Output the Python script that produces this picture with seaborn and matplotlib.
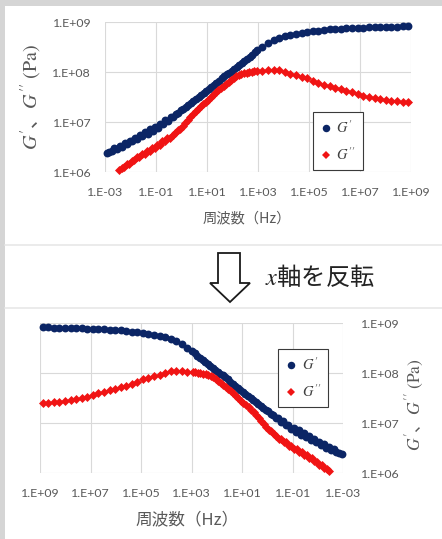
import numpy as np
import pandas as pd
import matplotlib
matplotlib.use("Agg")
import matplotlib.pyplot as plt
from matplotlib.lines import Line2D
from matplotlib.patches import Polygon, Rectangle
from matplotlib.ticker import FixedLocator, FuncFormatter, NullLocator
import seaborn as sns

# Master curve: log10 frequency (Hz) and log10 modulus (Pa)
log_freq_storage = [
    -2.93, -2.83, -2.73, -2.63, -2.53, -2.43, -2.33, -2.23, -2.13, -2.03,
    -1.93, -1.83, -1.73, -1.63, -1.53, -1.43, -1.33, -1.23, -1.13, -1.03,
    -0.93, -0.83, -0.73, -0.63, -0.53, -0.43, -0.33, -0.23, -0.13, -0.03,
    0.07, 0.17, 0.27, 0.37, 0.47, 0.57, 0.67, 0.77, 0.87, 0.97,
    1.07, 1.17, 1.27, 1.37, 1.47, 1.57, 1.67, 1.77, 1.87, 1.97,
    2.07, 2.17, 2.27, 2.37, 2.47, 2.57, 2.67, 2.77, 2.87, 2.97,
    3.17, 3.39, 3.61, 3.83, 4.05, 4.27, 4.49, 4.71, 4.93, 5.15,
    5.37, 5.59, 5.81, 6.03, 6.25, 6.47, 6.69, 6.91, 7.13, 7.35,
    7.57, 7.79, 8.01, 8.23, 8.45, 8.67, 8.89,
]
log_g_storage = [
    6.38, 6.41, 6.42, 6.48, 6.46, 6.53, 6.51, 6.58, 6.57, 6.63,
    6.62, 6.69, 6.66, 6.74, 6.72, 6.80, 6.77, 6.86, 6.83, 6.91,
    6.89, 6.97, 6.96, 7.04, 7.03, 7.11, 7.10, 7.17, 7.19, 7.24,
    7.27, 7.31, 7.35, 7.39, 7.43, 7.47, 7.51, 7.55, 7.59, 7.63,
    7.66, 7.70, 7.75, 7.79, 7.83, 7.88, 7.92, 7.96, 7.99, 8.03,
    8.07, 8.11, 8.15, 8.18, 8.22, 8.26, 8.30, 8.35, 8.40, 8.44,
    8.51, 8.59, 8.64, 8.69, 8.72, 8.75, 8.77, 8.79, 8.81, 8.82,
    8.83, 8.85, 8.86, 8.86, 8.87, 8.88, 8.88, 8.89, 8.89, 8.90,
    8.90, 8.91, 8.91, 8.91, 8.91, 8.92, 8.92,
]
log_freq_loss = [
    -2.45, -2.35, -2.25, -2.15, -2.05, -1.95, -1.85, -1.75, -1.65, -1.55,
    -1.45, -1.35, -1.25, -1.15, -1.05, -0.95, -0.85, -0.75, -0.65, -0.55,
    -0.45, -0.35, -0.25, -0.15, -0.05, 0.05, 0.15, 0.25, 0.35, 0.45,
    0.55, 0.65, 0.75, 0.85, 0.95, 1.05, 1.15, 1.25, 1.35, 1.45,
    1.55, 1.65, 1.75, 1.85, 1.95, 2.05, 2.15, 2.25, 2.35, 2.45,
    2.55, 2.65, 2.75, 2.85, 2.95,
    3.17, 3.39, 3.61, 3.83, 4.05, 4.27, 4.49, 4.71, 4.93, 5.15,
    5.37, 5.59, 5.81, 6.03, 6.25, 6.47, 6.69, 6.91, 7.13, 7.35,
    7.57, 7.79, 8.01, 8.23, 8.45, 8.67, 8.89,
]
log_g_loss = [
    6.05, 6.09, 6.10, 6.16, 6.17, 6.23, 6.24, 6.30, 6.30, 6.36,
    6.36, 6.42, 6.42, 6.48, 6.48, 6.55, 6.55, 6.62, 6.62, 6.69,
    6.69, 6.75, 6.78, 6.84, 6.87, 6.93, 6.98, 7.05, 7.11, 7.17,
    7.22, 7.27, 7.32, 7.37, 7.41, 7.45, 7.50, 7.55, 7.60, 7.64,
    7.69, 7.73, 7.77, 7.81, 7.85, 7.89, 7.92, 7.94, 7.96, 7.98,
    7.99, 8.00, 8.01, 8.02, 8.02,
    8.03, 8.04, 8.05, 8.04, 8.01, 7.97, 7.94, 7.91, 7.88, 7.83,
    7.79, 7.75, 7.72, 7.69, 7.66, 7.63, 7.60, 7.56, 7.53, 7.51,
    7.49, 7.46, 7.45, 7.43, 7.42, 7.41, 7.40,
]

x_ticks = [1e-3, 1e-1, 1e1, 1e3, 1e5, 1e7, 1e9]
y_ticks = [1e6, 1e7, 1e8, 1e9]
series_labels = ["$G'$", "$G''$"]
x_label = "周波数（Hz）"
y_label = r"$G'$、$G''$ $\mathrm{(Pa)}$"
caption = "$x$軸を反転"

NAVY = "#0b2565"
RED = "#f01414"
TICK_GRAY = "#595959"
GRID_GRAY = "#d9d9d9"

sns.set_style("white")
plt.rcParams["font.family"] = ["Lato", "Noto Sans CJK JP", "DejaVu Sans"]
plt.rcParams["mathtext.fontset"] = "stix"

storage_df = pd.DataFrame({
    "freq": 10.0 ** np.array(log_freq_storage),
    "modulus": 10.0 ** np.array(log_g_storage),
})
loss_df = pd.DataFrame({
    "freq": 10.0 ** np.array(log_freq_loss),
    "modulus": 10.0 ** np.array(log_g_loss),
})

W, H = 442, 539
fig = plt.figure(figsize=(W / 100, H / 100), dpi=100)
fig.patch.set_facecolor("white")


def fig_box(x0, y0, x1, y1):
    return [x0 / W, 1 - y1 / H, (x1 - x0) / W, (y1 - y0) / H]


def fx(x):
    return x / W


def fy(y):
    return 1 - y / H


# page frame: grey margins and faint separators between the panels
fig.patches.append(Rectangle((0, 0), fx(5), 1, transform=fig.transFigure,
                             facecolor="#d5d5d5", edgecolor="none", zorder=0))
fig.patches.append(Rectangle((0, fy(6)), 1, 6 / H, transform=fig.transFigure,
                             facecolor="#d5d5d5", edgecolor="none", zorder=0))
for ysep in (245, 308):
    fig.add_artist(Line2D([fx(5), 1], [fy(ysep), fy(ysep)], transform=fig.transFigure,
                          color="#e8e8e8", lw=1.2))


def exp_label(v, pos):
    e = int(round(np.log10(v)))
    return f"1.E{e:+03d}"


def draw_panel(ax, label_side):
    sns.scatterplot(data=storage_df, x="freq", y="modulus", marker="o", color=NAVY,
                    s=32, linewidth=0, ax=ax, legend=False, zorder=3, clip_on=False)
    sns.scatterplot(data=loss_df, x="freq", y="modulus", marker="D", color=RED,
                    s=21, linewidth=0, ax=ax, legend=False, zorder=4, clip_on=False)
    ax.set_xscale("log")
    ax.set_yscale("log")
    ax.set_xlim(1e-3, 1e9)
    ax.set_ylim(1e6, 1e9)
    ax.xaxis.set_major_locator(FixedLocator(x_ticks))
    ax.yaxis.set_major_locator(FixedLocator(y_ticks))
    ax.xaxis.set_minor_locator(NullLocator())
    ax.yaxis.set_minor_locator(NullLocator())
    ax.xaxis.set_major_formatter(FuncFormatter(exp_label))
    ax.yaxis.set_major_formatter(FuncFormatter(exp_label))
    ax.grid(True, which="major", color=GRID_GRAY, lw=0.8)
    ax.set_axisbelow(True)
    for sp in ax.spines.values():
        sp.set_visible(False)
    ax.tick_params(axis="x", length=0, labelsize=8.9, labelcolor=TICK_GRAY, pad=10.5)
    ax.tick_params(axis="y", length=0, labelsize=8.9, labelcolor=TICK_GRAY, pad=10)
    if label_side == "right":
        ax.yaxis.tick_right()
        ax.tick_params(axis="y", pad=12.5)
    ax.set_xlabel("")
    ax.set_ylabel("")


def add_legend(ax, x0, y0):
    handles = [
        Line2D([], [], marker="o", color=NAVY, linestyle="", markersize=5.4, markeredgewidth=0),
        Line2D([], [], marker="D", color=RED, linestyle="", markersize=4.2, markeredgewidth=0),
    ]
    leg = ax.legend(handles, series_labels, loc="upper left",
                    bbox_to_anchor=(fx(x0), fy(y0)), bbox_transform=fig.transFigure,
                    borderaxespad=0, frameon=True, fancybox=False, framealpha=1,
                    edgecolor="#3a3a3a", labelspacing=0.7,
                    borderpad=0.5, handlelength=0.8, handletextpad=0.3,
                    prop={"family": "Liberation Serif", "size": 10.5})
    leg.get_frame().set_linewidth(0.8)
    for t in leg.get_texts():
        t.set_color("#404040")
    leg.set_zorder(10)


# original orientation
ax_top = fig.add_axes(fig_box(105, 22.3, 411, 172.3))
draw_panel(ax_top, "left")
add_legend(ax_top, 312.7, 112.3)
fig.text(fx(31), fy(97), y_label, rotation=90, ha="center", va="center",
         fontsize=14.5, color=TICK_GRAY, family=["Noto Sans CJK JP"])
fig.text(fx(247), fy(218), x_label, ha="center", va="center",
         fontsize=10.3, color=TICK_GRAY, family=["Noto Sans CJK JP", "DejaVu Sans"])

# reversed frequency axis
ax_bot = fig.add_axes(fig_box(40, 323.3, 343.3, 473.3))
draw_panel(ax_bot, "right")
ax_bot.invert_xaxis()
add_legend(ax_bot, 278.3, 349.3)
fig.text(fx(415), fy(405), y_label, rotation=90, ha="center", va="center",
         fontsize=12.5, color=TICK_GRAY, family=["Noto Sans CJK JP"])
fig.text(fx(187), fy(520), x_label, ha="center", va="center",
         fontsize=12, color=TICK_GRAY, family=["Noto Sans CJK JP", "DejaVu Sans"])

# hollow arrow and caption between the panels
arrow_px = [(218, 253), (240, 253), (240, 283), (250, 283), (230, 302),
            (210, 283), (218, 283)]
fig.patches.append(Polygon([(fx(x), fy(y)) for x, y in arrow_px], closed=True,
                           transform=fig.transFigure, facecolor="white",
                           edgecolor="#1a1a1a", lw=1.3, joinstyle="miter"))
fig.text(fx(265), fy(278), caption, ha="left", va="center", fontsize=17.5,
         color="#222222", family=["Noto Sans CJK JP", "DejaVu Sans"])

fig.savefig("out.png", dpi=100, facecolor="white")
